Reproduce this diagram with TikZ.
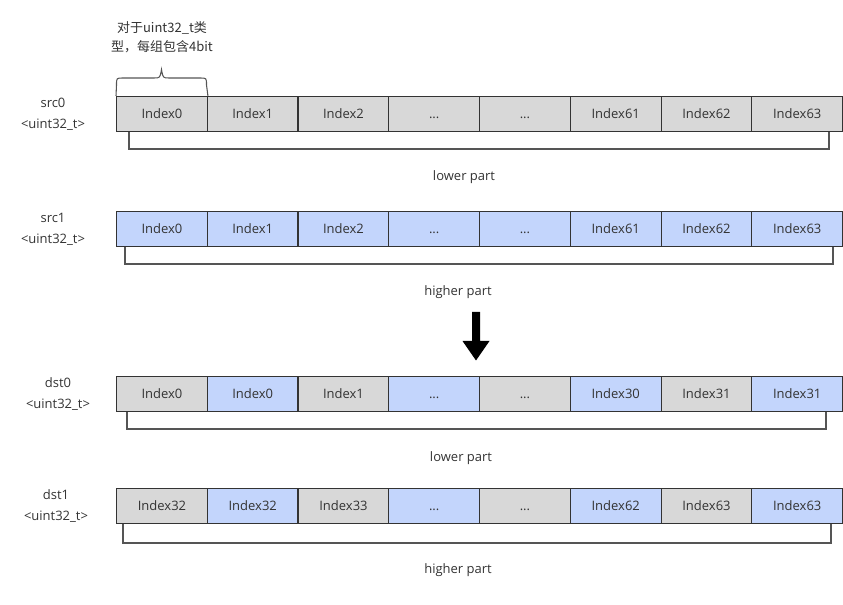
\documentclass[tikz,border=0pt]{standalone}
\usepackage{fontspec}
\setmainfont{Open Sans}
\newfontfamily\cjk{Noto Sans CJK SC}
\definecolor{cgray}{HTML}{D8D8D8}
\definecolor{cblue}{HTML}{C3D5FC}
\definecolor{cline}{HTML}{333333}
\definecolor{ctext}{HTML}{333333}
\definecolor{cbr}{HTML}{555555}
\def\dd{...}
\begin{document}
\begin{tikzpicture}[x=0.75pt,y=-0.75pt,
  cell/.style={draw=cline, line width=0.9pt, minimum width=68.06pt, minimum height=26.25pt,
    inner sep=0pt, anchor=north west, text=ctext, text height=7pt, text depth=0pt,
    font=\fontsize{9.75pt}{12pt}\selectfont},
  gcell/.style={cell, fill=cgray},
  bcell/.style={cell, fill=cblue},
  lbl/.style={text=ctext, align=center, font=\fontsize{9.75pt}{15.75pt}\selectfont},
  partlbl/.style={text=ctext, font=\fontsize{9.75pt}{12pt}\selectfont},
  bracket/.style={draw=cbr, line width=0.9pt}]
\useasboundingbox (0,0) rectangle (843,605);

% src0
\foreach \t [count=\i] in {Index0,Index1,Index2,\dd,\dd,Index61,Index62,Index63}
  \node[gcell] (a\i) at ({116+(\i-1)*90.75},96) {\t};
% src1
\foreach \t [count=\i] in {Index0,Index1,Index2,\dd,\dd,Index61,Index62,Index63}
  \node[bcell] (b\i) at ({116+(\i-1)*90.75},211) {\t};
% dst0
\foreach \t/\s [count=\i] in {Index0/gcell,Index0/bcell,Index1/gcell,\dd/bcell,\dd/gcell,Index30/bcell,Index31/gcell,Index31/bcell}
  \node[\s] (c\i) at ({116+(\i-1)*90.75},376) {\t};
% dst1
\foreach \t/\s [count=\i] in {Index32/gcell,Index32/bcell,Index33/gcell,\dd/bcell,\dd/gcell,Index62/bcell,Index63/gcell,Index63/bcell}
  \node[\s] (d\i) at ({116+(\i-1)*90.75},488) {\t};

% left labels
\node[lbl] (la) at (53,114.5) {src0\\<uint32\_t>};
\node[lbl] (lb) at (53,229.5) {src1\\<uint32\_t>};
\node[lbl] (lc) at (58,394) {dst0\\<uint32\_t>};
\node[lbl] (ld) at (56,506.5) {dst1\\<uint32\_t>};

% brackets
\draw[bracket] (a1.south west -| 129,0) -- (129,149) -- (829,149) -- (a8.south west -| 829,0);
\draw[bracket] (b1.south west -| 125,0) -- (125,264) -- (833,264) -- (b8.south west -| 833,0);
\draw[bracket] (c1.south west -| 127,0) -- (127,429) -- (826,429) -- (c8.south west -| 826,0);
\draw[bracket] (d1.south west -| 123,0) -- (123,543) -- (831,543) -- (d8.south west -| 831,0);

% part labels
\node[partlbl] (pa) at (464,177) {lower part};
\node[partlbl] (pb) at (458,292) {higher part};
\node[partlbl] (pc) at (461,458) {lower part};
\node[partlbl] (pd) at (458,570) {higher part};

% brace
\draw[bracket, line width=0.8pt] (a1.north west) -- (116.5,85) .. controls (116.5,78) .. (123,78) -- (154,78)
  .. controls (160,78) .. (161.5,69.5) .. controls (163,78) .. (169,78) -- (200,78)
  .. controls (206.5,78) .. (206.5,85) -- (a1.north east);
\node[lbl, font=\cjk\fontsize{9.75pt}{14.25pt}\selectfont] (note) at (162,37) {对于uint32\_t类\\型，每组包含4bit};

% arrow
\fill[black] (472.2,312) -- (480,312) -- (480,341) -- (489.5,341) -- (476,360.5) -- (462.5,341) -- (472.2,341) -- cycle;
\end{tikzpicture}
\end{document}
